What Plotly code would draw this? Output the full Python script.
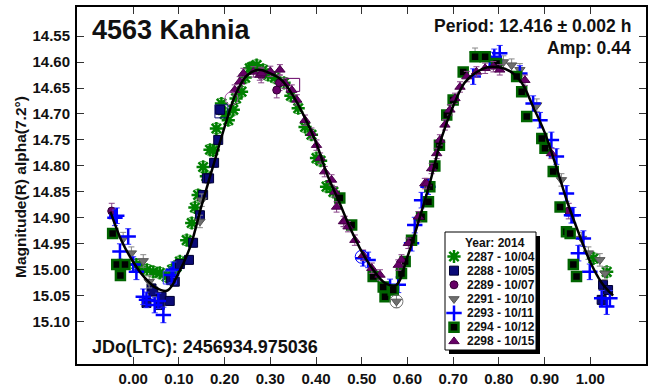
import plotly.graph_objects as go

# ---------------- data ----------------
fit_phase = [-0.05, -0.025, 0.0, 0.025, 0.05, 0.075, 0.10, 0.125, 0.15, 0.175, 0.20, 0.225, 0.25, 0.275,
             0.30, 0.325, 0.35, 0.375, 0.40, 0.425, 0.45, 0.475, 0.50, 0.525, 0.55, 0.575, 0.60, 0.625,
             0.65, 0.675, 0.70, 0.725, 0.75, 0.775, 0.80, 0.825, 0.85, 0.875, 0.90, 0.925, 0.95, 0.975,
             1.00, 1.025, 1.05]
fit_mag = [14.888, 14.945, 14.985, 15.015, 15.035, 15.040, 15.005, 14.955, 14.875, 14.800, 14.725, 14.660,
           14.625, 14.615, 14.622, 14.635, 14.665, 14.706, 14.755, 14.818, 14.868, 14.920, 14.965, 15.000,
           15.025, 15.030, 14.975, 14.905, 14.830, 14.745, 14.685, 14.640, 14.620, 14.610, 14.610, 14.618,
           14.640, 14.686, 14.735, 14.800, 14.870, 14.930, 14.985, 15.025, 15.050]

s2287_phase = [0.007, 0.015, 0.030, 0.044, 0.058, 0.073, 0.085, 0.095, 0.102, 0.117, 0.128, 0.135, 0.142,
               0.153, 0.160, 0.168, 0.175, 0.182, 0.193, 0.200, 0.208, 0.219, 0.225, 0.237, 0.245, 0.255,
               0.260, 0.270, 0.284, 0.295, 0.310, 0.330, 0.345, 0.361, 0.376, 0.390, 0.401, 0.410, 0.423,
               0.438, 1.007, 1.036]
s2287_mag = [14.990, 14.994, 15.000, 15.004, 15.006, 15.013, 15.000, 14.994, 14.984, 14.943, 14.910, 14.880,
             14.856, 14.802, 14.820, 14.769, 14.770, 14.728, 14.680, 14.700, 14.712, 14.692, 14.670, 14.657,
             14.630, 14.612, 14.610, 14.606, 14.615, 14.625, 14.630, 14.640, 14.665, 14.689, 14.725, 14.740,
             14.785, 14.790, 14.840, 14.850, 14.978, 15.004]

s2288_phase = [0.029, 0.040, 0.044, 0.058, 0.062, 0.080, 0.083, 0.091, 0.102, 0.122, 0.131, 0.146, 0.153,
               0.161, 0.166, 0.177, 0.186, 0.190, 1.025, 1.028, 1.039]
s2288_mag = [15.064, 15.036, 15.042, 15.068, 15.052, 15.060, 15.020, 15.023, 14.989, 14.981, 14.948, 14.895,
             14.856, 14.824, 14.824, 14.794, 14.750, 14.692, 15.058, 15.029, 15.039]

s2289_phase = [-0.047, 0.280, 0.314, 0.320, 0.953]
s2289_mag = [14.887, 14.625, 14.654, 14.640, 14.887]

s2291_phase = [-0.022, -0.004, 0.022, 0.035, 0.146, 0.150, 0.576, 0.748, 0.810, 0.828, 0.846, 0.883,
               0.937, 0.981, 0.996, 1.021, 1.032]
s2291_mag = [14.940, 14.968, 14.983, 15.023, 14.907, 14.866, 15.061, 14.585, 14.600, 14.606, 14.615, 14.683,
             14.827, 14.940, 14.968, 14.981, 15.007]

s2293_phase = [-0.040, -0.036, -0.029, -0.011, 0.000, 0.007, 0.022, 0.029, 0.047, 0.055, 0.066, 0.084,
               0.088, 0.503, 0.514, 0.562, 0.580, 0.609, 0.616, 0.631, 0.645, 0.744, 0.780, 0.790, 0.802,
               0.846, 0.875, 0.890, 0.915, 0.926, 0.948, 0.959, 0.963, 0.974, 0.985, 0.999, 1.025, 1.036,
               1.043]
s2293_mag = [14.900, 14.896, 14.965, 14.936, 14.990, 15.004, 15.052, 15.058, 15.068, 15.060, 15.087, 15.010,
             15.000, 14.978, 14.981, 15.033, 15.029, 14.949, 14.914, 14.866, 14.840, 14.628, 14.596, 14.590,
             14.583, 14.622, 14.680, 14.712, 14.750, 14.782, 14.853, 14.895, 14.895, 14.968, 14.940, 15.004,
             15.055, 15.071, 15.055]

s2294_phase = [-0.045, -0.036, -0.028, -0.018, 0.452, 0.478, 0.525, 0.547, 0.551, 0.569, 0.587, 0.595,
               0.609, 0.631, 0.646, 0.649, 0.660, 0.670, 0.686, 0.700, 0.722, 0.748, 0.770, 0.795, 0.839,
               0.850, 0.861, 0.894, 0.901, 0.919, 0.934, 0.948, 0.956, 0.963, 0.970]
s2294_mag = [14.930, 14.990, 15.011, 14.990, 14.862, 14.914, 15.013, 15.033, 15.052, 15.039, 15.007, 14.984,
             14.943, 14.898, 14.869, 14.840, 14.800, 14.760, 14.702, 14.673, 14.619, 14.590, 14.590, 14.603,
             14.628, 14.657, 14.705, 14.747, 14.766, 14.811, 14.879, 14.927, 14.930, 14.990, 15.013]

s2298_phase = [0.222, 0.233, 0.241, 0.263, 0.277, 0.281, 0.300, 0.321, 0.332, 0.347, 0.358, 0.376, 0.390,
               0.401, 0.409, 0.419, 0.434, 0.441, 0.445, 0.460, 0.463, 0.470, 0.485, 0.503, 0.522, 0.540,
               0.580, 0.587, 0.602, 0.624, 0.638, 0.642, 0.653, 0.664, 0.671, 0.682, 0.693, 0.704, 0.715,
               0.730, 0.751, 0.770, 0.788, 0.802, 0.857, 0.915]
s2298_mag = [14.654, 14.638, 14.622, 14.619, 14.625, 14.622, 14.618, 14.615, 14.641, 14.654, 14.673, 14.712,
             14.737, 14.760, 14.785, 14.811, 14.827, 14.850, 14.879, 14.907, 14.907, 14.917, 14.943, 14.972,
             14.997, 15.010, 14.991, 14.981, 14.949, 14.898, 14.834, 14.834, 14.805, 14.776, 14.750, 14.721,
             14.692, 14.670, 14.648, 14.628, 14.619, 14.612, 14.609, 14.615, 14.635, 14.776]

# open (highlighted) points
open_phase = [0.500, 0.576, 0.193, 0.215, 0.350, 0.080]
open_mag = [14.975, 15.061, 14.695, 14.670, 14.644, 15.015]

legend_title = "Year: 2014"
series_names = ["2287 - 10/04", "2288 - 10/05", "2289 - 10/07", "2291 - 10/10",
                "2293 - 10/11", "2294 - 10/12", "2298 - 10/15"]
series_err = [0.010, 0.008, 0.015, 0.012, 0.015, 0.008, 0.010]

x_ticks = [0.0, 0.1, 0.2, 0.3, 0.4, 0.5, 0.6, 0.7, 0.8, 0.9, 1.0]
y_ticks = [14.55, 14.60, 14.65, 14.70, 14.75, 14.80, 14.85, 14.90, 14.95, 15.00, 15.05, 15.10]

# ---------------- figure ----------------
W, H = 652, 391
ML, MR, MT, MB = 77, 6, 7, 27
FONT = "Liberation Sans"
TXT = "#111111"

fig = go.Figure()

styles = [
    dict(symbol="asterisk", size=11, color="#008000", line=dict(color="#008000", width=2.5)),
    dict(symbol="square", size=9, color="#0a0a78", line=dict(color="#000033", width=1)),
    dict(symbol="circle", size=8, color="#660066", line=dict(color="#330033", width=1)),
    dict(symbol="triangle-down", size=9, color="#6e6e6e", line=dict(color="#555555", width=1)),
    dict(symbol="cross-thin", size=11, color="#0000ff", line=dict(color="#0000ff", width=2.5)),
    dict(symbol="square", size=9, color="#000000", line=dict(color="#006400", width=2.5)),
    dict(symbol="triangle-up", size=9, color="#660066", line=dict(color="#4a004a", width=1)),
]
err_colors = ["#228b22", "#555577", "#884488", "#888888", "#3333ff", "#338833", "#884488"]
xs = [s2287_phase, s2288_phase, s2289_phase, s2291_phase, s2293_phase, s2294_phase, s2298_phase]
ys = [s2287_mag, s2288_mag, s2289_mag, s2291_mag, s2293_mag, s2294_mag, s2298_mag]

for i in range(7):
    fig.add_trace(go.Scatter(
        x=xs[i], y=ys[i], mode="markers", name=series_names[i], showlegend=False,
        marker=styles[i],
        error_y=dict(type="constant", value=series_err[i], color=err_colors[i], thickness=1, width=3),
    ))

open_colors = ["#0000ff", "#777777", "#0a0a78", "#aa55aa", "#660066", "#3333ff"]
open_symbols = ["circle-open", "circle-open", "square-open", "circle-open", "square-open", "square-open"]
fig.add_trace(go.Scatter(
    x=open_phase, y=open_mag, mode="markers", showlegend=False,
    marker=dict(symbol=open_symbols, size=13, color=open_colors, line=dict(width=1)),
))

fig.add_trace(go.Scatter(
    x=fit_phase, y=fit_mag, mode="lines", showlegend=False,
    line=dict(color="black", width=2.5, shape="spline"),
))

axis_common = dict(
    showline=True, linecolor="black", linewidth=2, mirror="ticks",
    ticks="inside", ticklen=7, tickwidth=1, tickcolor="#333333",
    showgrid=False, zeroline=False, automargin=False,
    tickfont=dict(family=FONT, size=15, color=TXT, weight="bold"),
)

fig.update_xaxes(range=[-0.123, 1.122], tickvals=x_ticks,
                 ticktext=[f"{v:.2f}" for v in x_ticks], ticklabelstandoff=0, **axis_common)
fig.update_yaxes(range=[15.1815, 14.494], tickvals=y_ticks,
                 ticktext=[f"{v:.2f}" for v in y_ticks], ticklabelstandoff=2, **axis_common)

# pixel-space overlay axes for the hand-built legend
fig.update_layout(
    xaxis2=dict(overlaying="x", range=[ML, W - MR], visible=False, fixedrange=True, automargin=False),
    yaxis2=dict(overlaying="y", range=[H - MB, MT], visible=False, fixedrange=True, automargin=False),
)

pw, ph = W - ML - MR, H - MT - MB


def px(xp):
    return (xp - ML) / pw


def py(yp):
    return (H - MB - yp) / ph


annots = [
    dict(text="4563 Kahnia", x=px(90), y=py(30), xanchor="left", yanchor="middle",
         font=dict(size=27, weight="bold")),
    dict(text="Period: 12.416 ± 0.002 h", x=px(633), y=py(26), xanchor="right", yanchor="middle",
         font=dict(size=17.5, weight="bold")),
    dict(text="Amp: 0.44", x=px(633), y=py(48), xanchor="right", yanchor="middle",
         font=dict(size=17.5, weight="bold")),
    dict(text="JDo(LTC): 2456934.975036", x=px(90), y=py(347), xanchor="left", yanchor="middle",
         font=dict(size=18, weight="bold")),
    dict(text="Magnitude(R) alpha(7.2°)", x=px(20), y=py(187), xanchor="center", yanchor="middle",
         textangle=-90, font=dict(size=15.5, weight="bold")),
]
for a in annots:
    a["font"].update(family=FONT, color=TXT)
    fig.add_annotation(xref="paper", yref="paper", showarrow=False, **a)

# ---- legend box (with drop shadow) ----
LX0, LX1, LY0, LY1 = 445, 536, 232, 350
fig.add_shape(type="rect", xref="x2", yref="y2", x0=LX0 + 4, x1=LX1 + 4, y0=LY0 + 4, y1=LY1 + 4,
              fillcolor="black", line=dict(width=0), layer="below")
fig.add_shape(type="rect", xref="x2", yref="y2", x0=LX0, x1=LX1, y0=LY0, y1=LY1,
              fillcolor="white", line=dict(color="black", width=1), layer="below")
fig.add_annotation(xref="x2", yref="y2", x=(LX0 + LX1) / 2 + 4, y=243, text=legend_title,
                   showarrow=False, xanchor="center", yanchor="middle",
                   font=dict(family=FONT, size=12, weight="bold", color=TXT))
row0, row_h = 256.5, 14.15
for i in range(7):
    yy = row0 + i * row_h
    fig.add_trace(go.Scatter(x=[454], y=[yy], xaxis="x2", yaxis="y2", mode="markers",
                             showlegend=False, hoverinfo="skip", marker=styles[i]))
    fig.add_annotation(xref="x2", yref="y2", x=465, y=yy, text=series_names[i], showarrow=False,
                       xanchor="left", yanchor="middle",
                       font=dict(family=FONT, size=12, weight="bold", color=TXT))

fig.update_layout(
    width=W, height=H,
    margin=dict(l=ML, r=MR, t=MT, b=MB),
    paper_bgcolor="white", plot_bgcolor="white",
    font=dict(family=FONT, color=TXT),
    showlegend=False,
)

fig.write_html("out.html")
